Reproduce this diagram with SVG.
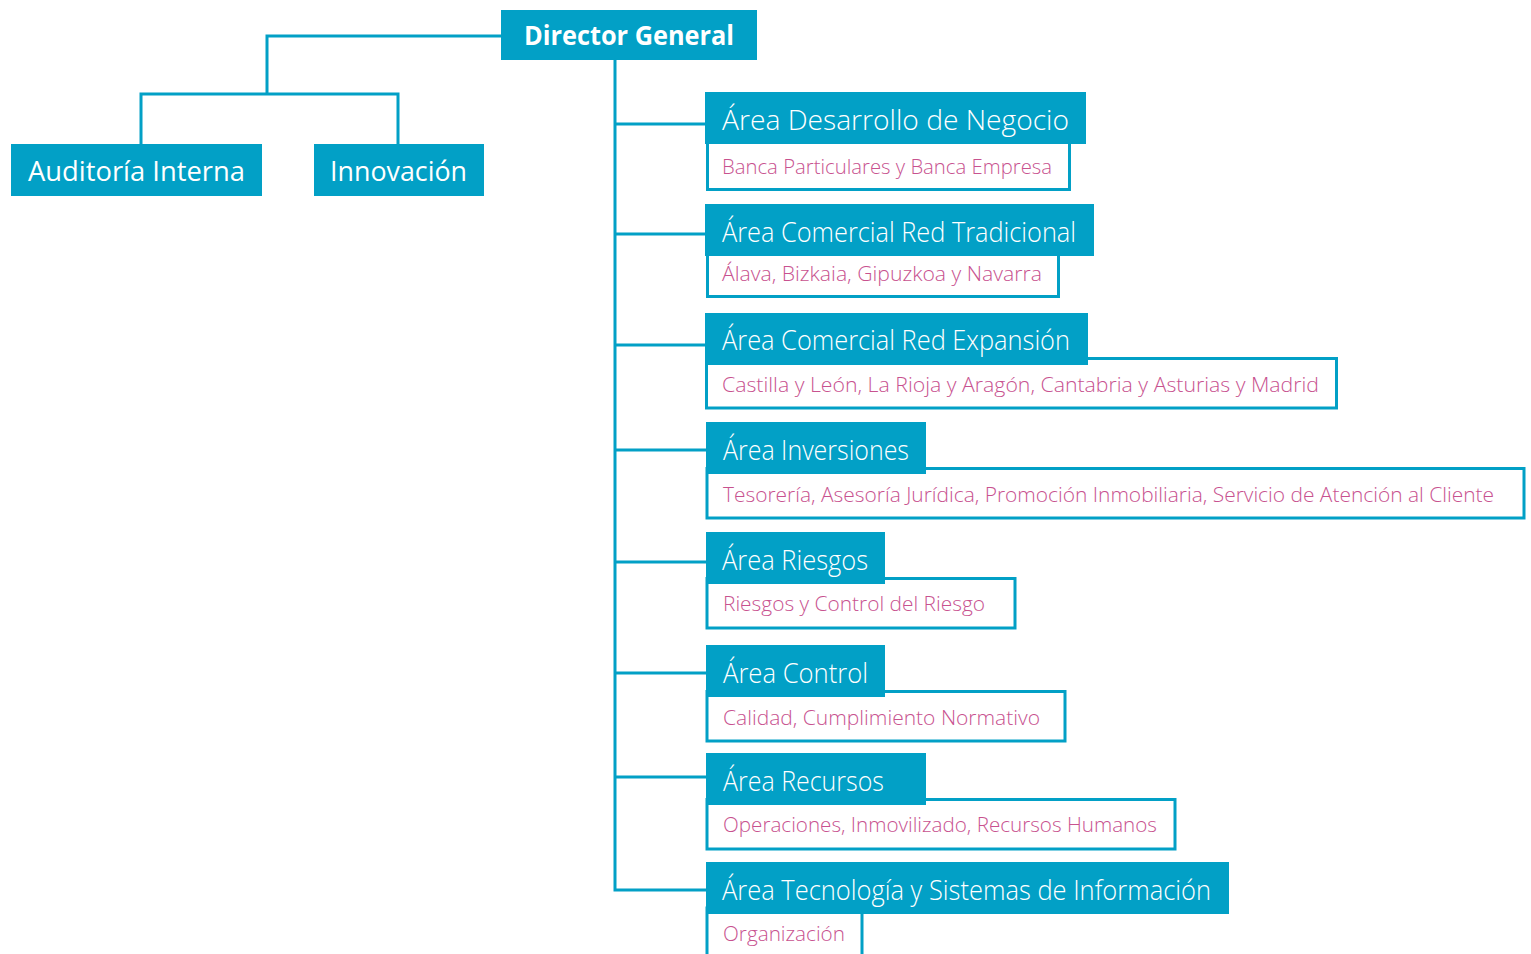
<svg xmlns="http://www.w3.org/2000/svg" width="1531" height="954" viewBox="0 0 1531 954">
  <style>
    .box { fill: #02A0C6; }
    .sub { fill: #FFFFFF; stroke: #02A0C6; stroke-width: 3; }
    .line { fill: none; stroke: #02A0C6; stroke-width: 3; }
    .head { font-family: "Open Sans", "Noto Sans", "Liberation Sans", sans-serif; font-size: 27px; fill: #FFFFFF; }
    .area { font-family: "Open Sans", "Noto Sans", "Liberation Sans", sans-serif; font-size: 27px; font-weight: 300; fill: #FFFFFF; }
    .top { font-family: "Open Sans", "Noto Sans", "Liberation Sans", sans-serif; font-size: 26px; font-weight: bold; fill: #FFFFFF; }
    .desc { font-family: "Open Sans", "Noto Sans", "Liberation Sans", sans-serif; font-size: 20px; font-weight: 300; fill: #C8528F; }
  </style>

  <rect width="1531" height="954" fill="#FFFFFF"/>

  <!-- connectors -->
  <g id="connectors">
    <polyline class="line" points="501,36 267,36 267,94"/>
    <polyline class="line" points="141,144 141,94 398,94 398,144"/>
    <polyline class="line" points="615,60 615,890 706,890"/>
    <line class="line" x1="615" y1="124" x2="706" y2="124"/>
    <line class="line" x1="615" y1="234" x2="706" y2="234"/>
    <line class="line" x1="615" y1="345" x2="706" y2="345"/>
    <line class="line" x1="615" y1="450" x2="706" y2="450"/>
    <line class="line" x1="615" y1="562" x2="706" y2="562"/>
    <line class="line" x1="615" y1="673" x2="706" y2="673"/>
    <line class="line" x1="615" y1="777" x2="706" y2="777"/>
  </g>

  <!-- top level -->
  <g id="director-general">
    <rect class="box" x="501" y="10" width="256" height="50"/>
    <text class="top" x="524" y="45" textLength="210" lengthAdjust="spacingAndGlyphs">Director General</text>
  </g>
  <g id="auditoria-interna">
    <rect class="box" x="11" y="144" width="251" height="52"/>
    <text class="head" x="28" y="181" textLength="217" lengthAdjust="spacingAndGlyphs">Auditoría Interna</text>
  </g>
  <g id="innovacion">
    <rect class="box" x="314" y="144" width="170" height="52"/>
    <text class="head" x="330" y="181" textLength="137" lengthAdjust="spacingAndGlyphs">Innovación</text>
  </g>

  <!-- areas -->
  <g id="area-desarrollo-negocio">
    <rect class="sub" x="707.5" y="140" width="362" height="49.5"/>
    <rect class="box" x="705" y="92" width="381" height="52"/>
    <text class="area" x="722" y="130" textLength="347" lengthAdjust="spacingAndGlyphs">Área Desarrollo de Negocio</text>
    <text class="desc" x="722" y="174" textLength="330" lengthAdjust="spacingAndGlyphs">Banca Particulares y Banca Empresa</text>
  </g>

  <g id="area-comercial-tradicional">
    <rect class="sub" x="707.5" y="250" width="351" height="46.5"/>
    <rect class="box" x="705" y="204" width="389" height="52"/>
    <text class="area" x="722" y="242" textLength="354" lengthAdjust="spacingAndGlyphs">Área Comercial Red Tradicional</text>
    <text class="desc" x="722" y="281" textLength="320" lengthAdjust="spacingAndGlyphs">Álava, Bizkaia, Gipuzkoa y Navarra</text>
  </g>

  <g id="area-comercial-expansion">
    <rect class="sub" x="706.5" y="358.5" width="630" height="49.5"/>
    <rect class="box" x="705" y="313" width="383" height="52"/>
    <text class="area" x="722" y="350" textLength="348" lengthAdjust="spacingAndGlyphs">Área Comercial Red Expansión</text>
    <text class="desc" x="722" y="392" textLength="597" lengthAdjust="spacingAndGlyphs">Castilla y León, La Rioja y Aragón, Cantabria y Asturias y Madrid</text>
  </g>

  <g id="area-inversiones">
    <rect class="sub" x="707" y="468.5" width="817" height="49.5"/>
    <rect class="box" x="706" y="422" width="220" height="52"/>
    <text class="area" x="723" y="460" textLength="186" lengthAdjust="spacingAndGlyphs">Área Inversiones</text>
    <text class="desc" x="723" y="502" textLength="771" lengthAdjust="spacingAndGlyphs">Tesorería, Asesoría Jurídica, Promoción Inmobiliaria, Servicio de Atención al Cliente</text>
  </g>

  <g id="area-riesgos">
    <rect class="sub" x="707" y="578.5" width="308" height="49.5"/>
    <rect class="box" x="706" y="532" width="179" height="52"/>
    <text class="area" x="722" y="570" textLength="146" lengthAdjust="spacingAndGlyphs">Área Riesgos</text>
    <text class="desc" x="723" y="611" textLength="262" lengthAdjust="spacingAndGlyphs">Riesgos y Control del Riesgo</text>
  </g>

  <g id="area-control">
    <rect class="sub" x="707" y="691.5" width="358" height="49.5"/>
    <rect class="box" x="706" y="645" width="179" height="52"/>
    <text class="area" x="723" y="683" textLength="145" lengthAdjust="spacingAndGlyphs">Área Control</text>
    <text class="desc" x="723" y="725" textLength="317" lengthAdjust="spacingAndGlyphs">Calidad, Cumplimiento Normativo</text>
  </g>

  <g id="area-recursos">
    <rect class="sub" x="707" y="799.5" width="468" height="49.5"/>
    <rect class="box" x="706" y="753" width="220" height="52"/>
    <text class="area" x="723" y="791" textLength="161" lengthAdjust="spacingAndGlyphs">Área Recursos</text>
    <text class="desc" x="723" y="832" textLength="434" lengthAdjust="spacingAndGlyphs">Operaciones, Inmovilizado, Recursos Humanos</text>
  </g>

  <g id="area-tecnologia">
    <rect class="sub" x="707" y="908" width="155" height="60"/>
    <rect class="box" x="706" y="862" width="523" height="52"/>
    <text class="area" x="722" y="900" textLength="489" lengthAdjust="spacingAndGlyphs">Área Tecnología y Sistemas de Información</text>
    <text class="desc" x="723" y="941" textLength="122" lengthAdjust="spacingAndGlyphs">Organización</text>
  </g>
</svg>
